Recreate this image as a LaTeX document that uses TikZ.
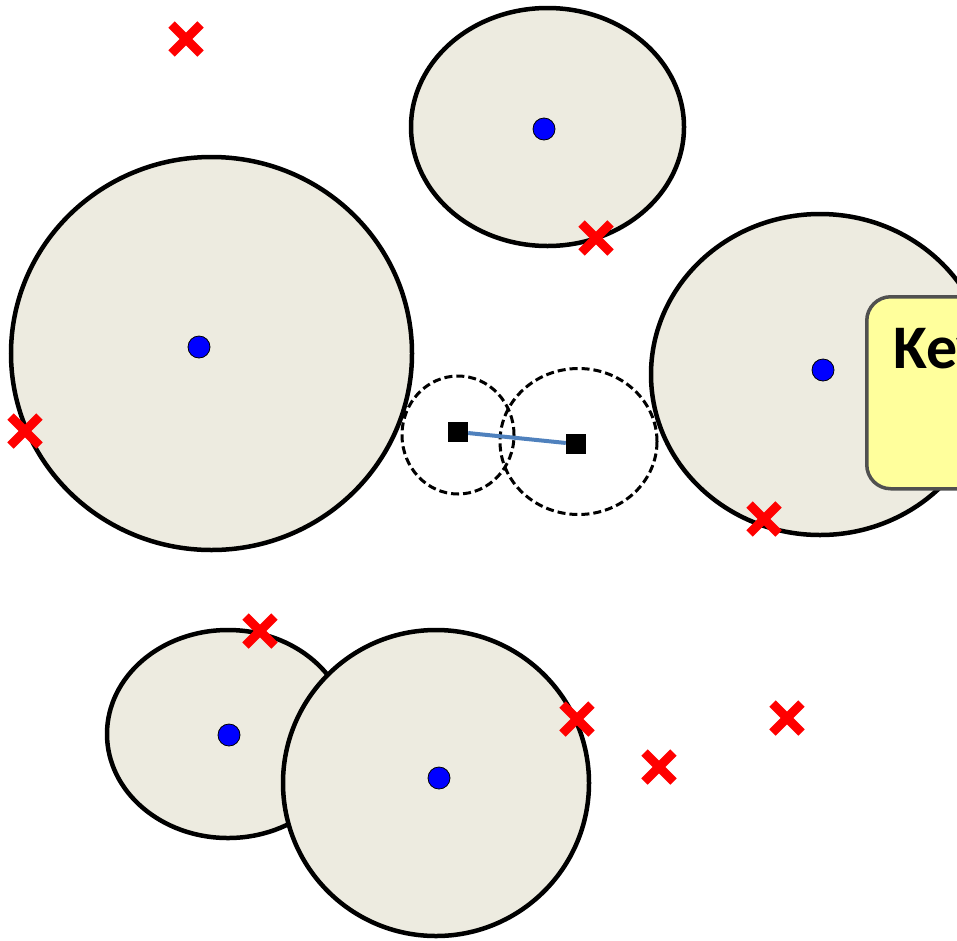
\documentclass[tikz,border=0pt]{standalone}
\usepackage{fontspec}
\setmainfont{Carlito}
\usetikzlibrary{shapes.geometric,shapes.misc}
\definecolor{disc}{RGB}{237,235,224}
\definecolor{keyfill}{RGB}{255,255,156}
\definecolor{keyline}{RGB}{80,80,80}
\definecolor{linkblue}{RGB}{79,129,189}
\tikzset{
  zone/.style={ellipse, draw=black, line width=4.5pt, fill=disc, inner sep=0pt},
  centre/.style={circle, draw=black, line width=0.8pt, fill=blue, minimum size=22pt, inner sep=0pt},
  reach/.style={ellipse, draw=black, dashed, dash pattern=on 8pt off 4pt, line width=3pt, inner sep=0pt},
  stn/.style={rectangle, fill=black, minimum size=20pt, inner sep=0pt},
  miss/.style={cross out, draw=red, line width=9pt, minimum size=20pt, inner sep=0pt},
  keybox/.style={rounded corners=24pt, draw=keyline, line width=3.5pt, fill=keyfill}
}
\begin{document}
\begin{tikzpicture}[x=1pt,y=-1pt]
\useasboundingbox (0,0) rectangle (957,940);
\fill[white] (0,0) rectangle (957,940);

% coverage zones
\node[zone, minimum width=273pt, minimum height=238pt] (z1) at (547.5,127) {};
\node[zone, minimum width=401pt, minimum height=393pt] (z2) at (211.5,353.5) {};
\node[zone, minimum width=338pt, minimum height=321pt] (z3) at (820,374.5) {};
\node[zone, minimum width=242pt, minimum height=208pt] (z4) at (228,734) {};
\node[zone, minimum width=306pt, minimum height=306pt] (z5) at (436,783) {};

% zone centres
\node[centre] (c1) at (544,129) {};
\node[centre] (c2) at (199,347) {};
\node[centre] (c3) at (823,370) {};
\node[centre] (c4) at (229,735) {};
\node[centre] (c5) at (439,778) {};

% key panel
\node[keybox, minimum width=200pt, minimum height=192pt, anchor=north west] (key) at (865,295) {};
\node[anchor=base west, font=\bfseries\fontsize{62}{62}\selectfont, inner sep=0pt] (keytxt) at (893,368) {Key};

% pair of stations with their reach
\node[reach, minimum width=112pt, minimum height=118pt] (r1) at (458,435) {};
\node[reach, minimum width=157pt, minimum height=146pt] (r2) at (578.5,441.5) {};
\node[stn] (s1) at (458,432) {};
\node[stn] (s2) at (576,444) {};
\draw[linkblue, line width=4pt] (s1) -- (s2);
\node[stn] at (s1) {};
\node[stn] at (s2) {};

% uncovered points
\node[miss] (m1) at (186,39) {};
\node[miss] (m2) at (596,238) {};
\node[miss] (m3) at (25,431) {};
\node[miss] (m4) at (764,519) {};
\node[miss] (m5) at (260,631) {};
\node[miss] (m6) at (577,719) {};
\node[miss] (m7) at (787,718) {};
\node[miss] (m8) at (659,767) {};
\end{tikzpicture}
\end{document}
